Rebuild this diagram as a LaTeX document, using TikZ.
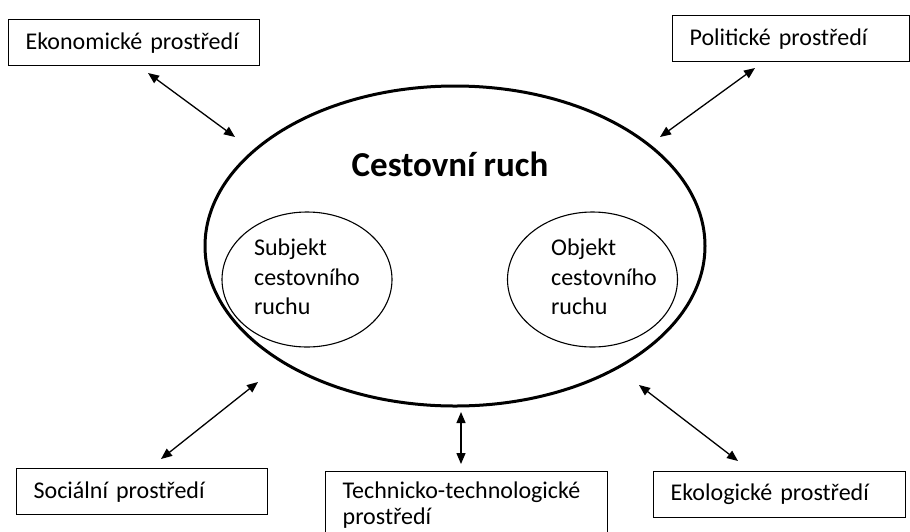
\documentclass[tikz,border=0pt]{standalone}
\usepackage{fontspec}
\setmainfont{Carlito}
\usetikzlibrary{arrows.meta,shapes.geometric}
\begin{document}
\begin{tikzpicture}[x=1pt,y=-1pt,
  envbox/.style={draw, line width=1.3pt, anchor=north west, align=left,
    inner xsep=17pt, inner ysep=0pt, minimum height=46pt,
    font=\fontsize{24}{28}\selectfont},
  bigring/.style={draw, ellipse, line width=3pt},
  smallring/.style={draw, ellipse, line width=1.1pt},
  ringtext/.style={align=left, inner sep=0pt, font=\fontsize{24}{29.5}\selectfont},
  biarrow/.style={line width=1.3pt, {Triangle[length=11pt,width=9pt]}-{Triangle[length=11pt,width=9pt]}}
]
\useasboundingbox (0,0) rectangle (910,531);

% main ellipse and inner ellipses
\node[bigring, minimum width=500pt, minimum height=320pt] (main) at (455,246) {};
\node[font=\bfseries\fontsize{35}{40}\selectfont] (title) at (450,164) {Cestovní ruch};
\node[smallring, minimum width=170pt, minimum height=135pt] (subj) at (307,279.5) {};
\node[ringtext] (subjtext) at (307,277) {Subjekt\\cestovního\\ruchu};
\node[smallring, minimum width=170pt, minimum height=135pt] (obj) at (592.5,279.5) {};
\node[ringtext] (objtext) at (604,277) {Objekt\\cestovního\\ruchu};

% environment boxes
\node[envbox, text width=217pt] (eko) at (8,19) {Ekonomické prostředí};
\node[envbox, text width=203pt] (pol) at (672,15) {Politické prostředí};
\node[envbox, text width=217pt] (soc) at (16,468) {Sociální prostředí};
\node[envbox, text width=248pt, minimum height=0pt, inner ysep=10pt,
      font=\fontsize{24}{26}\selectfont] (tech) at (325,471) {Technicko-technologické\\prostředí};
\node[envbox, text width=218pt] (ekol) at (653,471) {Ekologické prostředí};

% arrow endpoints
\coordinate (e1) at (148,73);  \coordinate (e2) at (235,137);
\coordinate (p1) at (755,68);  \coordinate (p2) at (660,137);
\coordinate (s1) at (258,382); \coordinate (s2) at (161,459);
\coordinate (t1) at (461,412); \coordinate (t2) at (461,464);
\coordinate (k1) at (639,385); \coordinate (k2) at (738,461);

\draw[biarrow] (e1) -- (e2);
\draw[biarrow] (p1) -- (p2);
\draw[biarrow] (s1) -- (s2);
\draw[biarrow] (t1) -- (t2);
\draw[biarrow] (k1) -- (k2);
\end{tikzpicture}
\end{document}
